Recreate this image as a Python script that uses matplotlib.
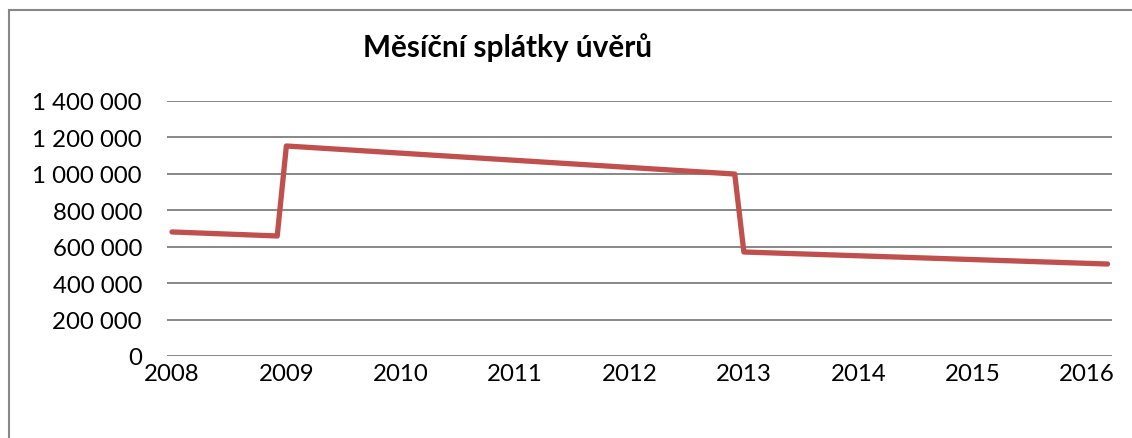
import matplotlib
matplotlib.use("Agg")
import matplotlib.pyplot as plt
from matplotlib.patches import Rectangle
from matplotlib.ticker import FuncFormatter

title = "Měsíční splátky úvěrů"
x_years = [2008.0, 2008.92, 2009.0, 2012.92, 2013.0, 2016.18]
values = [681000, 659000, 1153000, 999000, 571000, 505000]
year_ticks = [2008, 2009, 2010, 2011, 2012, 2013, 2014, 2015, 2016]
y_ticks = [0, 200000, 400000, 600000, 800000, 1000000, 1200000, 1400000]

W, H = 1132, 439
fig = plt.figure(figsize=(W / 100, H / 100), dpi=100)
plt.rcParams['font.family'] = ['Lato', 'DejaVu Sans']

ax = fig.add_axes([167 / W, 1 - 357 / H, (1112 - 167) / W, (357 - 102) / H])
ax.plot(x_years, values, color="#C0504D", lw=3.8, solid_joinstyle="round",
        solid_capstyle="round", zorder=3)
ax.set_ylim(0, 1400000)
ax.set_xlim(2008 - 5 / 114.375, 2016 + 25 / 114.375)
ax.set_yticks(y_ticks)
ax.set_xticks(year_ticks)
ax.yaxis.set_major_formatter(FuncFormatter(lambda v, p: f"{int(v):,}".replace(",", " ")))
ax.grid(axis="y", color="#878787", lw=1.4)
ax.set_axisbelow(True)
for s in ax.spines.values():
    s.set_visible(False)
ax.tick_params(length=0, labelsize=17.3, colors="black")
ax.tick_params(axis="y", pad=18)
ax.tick_params(axis="x", pad=5)

fig.text(508 / W, 1 - 48 / H, title, ha="center", va="center",
         fontsize=21.4, fontweight="bold")

fig.patches.append(Rectangle((9 / W, -0.1), 1.2, 1 - 11 / H + 0.1,
                             transform=fig.transFigure, fill=False,
                             edgecolor="#878787", lw=1.5))

fig.savefig("out.png", dpi=100, facecolor="white")
